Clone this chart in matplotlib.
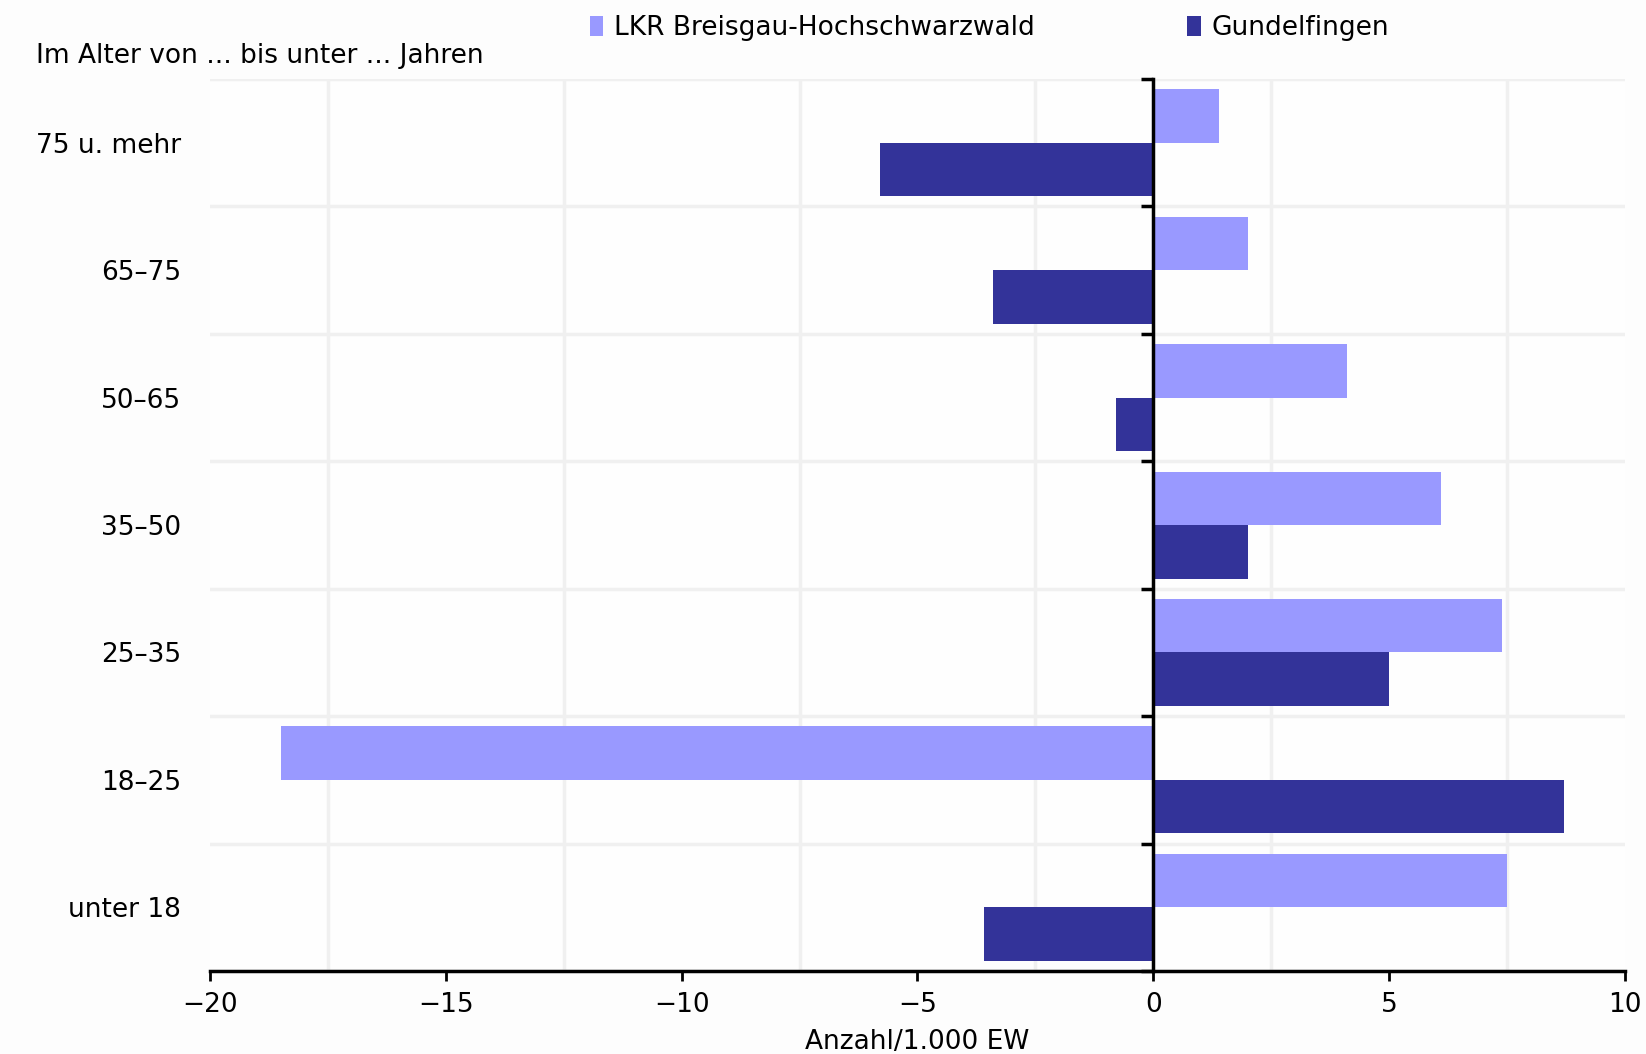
import matplotlib
matplotlib.use("Agg")
import matplotlib.pyplot as plt
import numpy as np

# age groups, top to bottom
categories = ["75 u. mehr", "65–75", "50–65", "35–50", "25–35", "18–25", "unter 18"]

# Anzahl / 1.000 EW
lkr_values = [1.4, 2.0, 4.1, 6.1, 7.4, -18.5, 7.5]
gund_values = [-5.8, -3.4, -0.8, 2.0, 5.0, 8.7, -3.6]

series_names = ["LKR Breisgau-Hochschwarzwald", "Gundelfingen"]
series_colors = ["#9999FF", "#333399"]

x_ticks = [-20, -15, -10, -5, 0, 5, 10]

plt.rcParams["font.family"] = ["DejaVu Sans"]
fs = 19

fig = plt.figure(figsize=(16.46, 10.54), dpi=100)
fig.patch.set_facecolor("#FDFDFD")
ax = fig.add_axes([0.1276, 0.0787, 0.8596, 0.8463])
ax.set_facecolor("#FEFEFE")

y = np.arange(len(categories))
bar_h = 0.42

ax.barh(y - bar_h / 2, lkr_values, height=bar_h, color=series_colors[0],
        label=series_names[0], zorder=3)
ax.barh(y + bar_h / 2, gund_values, height=bar_h, color=series_colors[1],
        label=series_names[1], zorder=3)

ax.set_xlim(-20, 10)
ax.set_ylim(len(categories) - 0.5, -0.5)

# x axis
ax.set_xticks(x_ticks)
ax.set_xticklabels([("\u2212%d" % -t) if t < 0 else str(t) for t in x_ticks])
ax.set_xticks(np.arange(-20, 10.1, 2.5), minor=True)
ax.tick_params(axis="x", which="major", direction="out", length=7, width=2,
               color="black", labelsize=fs, pad=8)
ax.tick_params(axis="x", which="minor", length=0)
ax.grid(True, axis="x", which="minor", color="#F0F0F0", linewidth=2.5, zorder=0)

# left spine sits on zero, with ticks at the group boundaries
bounds = np.arange(len(categories) + 1) - 0.5
ax.set_yticks(bounds)
ax.set_yticklabels([])
ax.tick_params(axis="y", direction="out", length=9, width=2.5, color="black")
ax.grid(True, axis="y", color="#F0F0F0", linewidth=2.5, zorder=0)
ax.spines["left"].set_position(("data", 0))
ax.spines["left"].set_linewidth(2.5)
ax.spines["left"].set_zorder(6)

for side in ["top", "right"]:
    ax.spines[side].set_visible(False)
ax.spines["bottom"].set_linewidth(2.5)
ax.spines["bottom"].set_zorder(5)

# category labels on the far left
lab_ax = ax.secondary_yaxis(0)
lab_ax.set_yticks(y)
lab_ax.set_yticklabels(categories)
lab_ax.tick_params(axis="y", length=0, labelsize=fs, pad=21)
lab_ax.spines["left"].set_visible(False)

ax.set_xlabel("Anzahl/1.000 EW", fontsize=fs, labelpad=8)

fig.text(0.022, 0.947, "Im Alter von ... bis unter ... Jahren", fontsize=fs,
         ha="left", va="center")

leg = fig.legend(loc="upper center", bbox_to_anchor=(0.601, 1.008), ncol=2,
                 frameon=False, fontsize=fs, handlelength=0.5, handleheight=0.8,
                 handletextpad=0.4, columnspacing=5.8)

fig.savefig("out.png", dpi=100, facecolor=fig.get_facecolor())
